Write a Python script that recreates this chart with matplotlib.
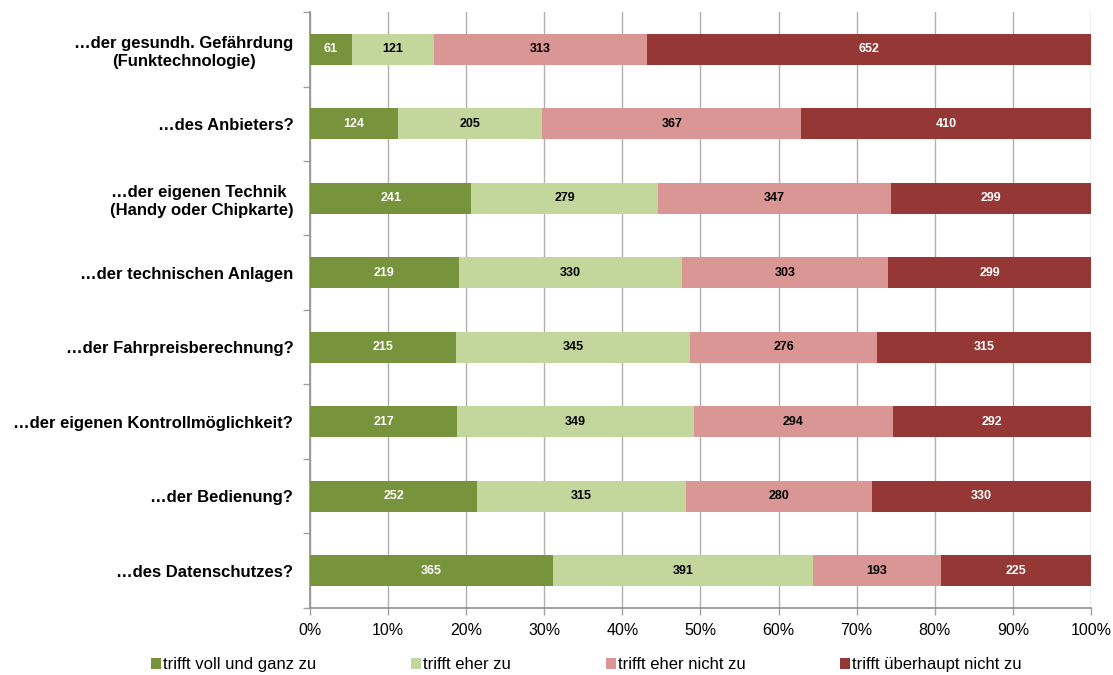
import matplotlib
matplotlib.use('Agg')
from matplotlib import pyplot as plt
import numpy as np

# Data (top to bottom as shown)
categories = ['…der gesundh. Gefährdung\n(Funktechnologie)',
              '…des Anbieters?',
              '…der eigenen Technik \n(Handy oder Chipkarte)',
              '…der technischen Anlagen',
              '…der Fahrpreisberechnung?',
              '…der eigenen Kontrollmöglichkeit?',
              '…der Bedienung?',
              '…des Datenschutzes?']
voll = [61, 124, 241, 219, 215, 217, 252, 365]
eher = [121, 205, 279, 330, 345, 349, 315, 391]
eher_nicht = [313, 367, 347, 303, 276, 294, 280, 193]
gar_nicht = [652, 410, 299, 299, 315, 292, 330, 225]
series_names = ['trifft voll und ganz zu', 'trifft eher zu',
                'trifft eher nicht zu', 'trifft überhaupt nicht zu']

colors = ['#77933C', '#C3D69B', '#D99694', '#953735']
text_colors = ['white', 'black', 'black', 'white']

plt.rcParams['font.family'] = ['Liberation Sans', 'DejaVu Sans']

fig = plt.figure(figsize=(11.13, 6.75), dpi=100)
ax = fig.add_axes([0.2785, 0.0993, 0.7017, 0.8829])

data = np.array([voll, eher, eher_nicht, gar_nicht], dtype=float)
totals = data.sum(axis=0)
shares = data / totals * 100

y = np.arange(len(categories))
left = np.zeros(len(categories))
for i in range(4):
    ax.barh(y, shares[i], left=left, height=0.41, color=colors[i],
            label=series_names[i], zorder=3)
    for j in range(len(categories)):
        ax.text(left[j] + shares[i][j] / 2, y[j], str(int(data[i][j])),
                ha='center', va='center', fontsize=9, fontweight='bold',
                color=text_colors[i], zorder=4)
    left += shares[i]

ax.set_xlim(0, 100)
ax.set_ylim(len(categories) - 0.5, -0.5)
ax.set_xticks(np.arange(0, 101, 10))
ax.set_xticklabels([f'{v}%' for v in range(0, 101, 10)], fontsize=11.5)
ax.set_yticks(y)
ax.set_yticklabels(categories, fontsize=12, fontweight='bold', ha='right',
                   multialignment='center', linespacing=1.3)
ax.tick_params(axis='y', length=0, pad=12)
ax.set_yticks(np.arange(-0.5, len(categories), 1), minor=True)
ax.tick_params(axis='y', which='minor', length=5, color='#a0a0a0', width=1)
ax.tick_params(axis='x', length=5, color='#a0a0a0', width=1, pad=6)

ax.grid(axis='x', color='#b0b0b0', linewidth=1, zorder=0)
ax.set_axisbelow(True)
for s in ['top', 'right']:
    ax.spines[s].set_visible(False)
ax.spines['left'].set_color('#909090')
ax.spines['bottom'].set_color('#909090')
ax.spines['left'].set_linewidth(1.2)
ax.spines['bottom'].set_linewidth(1.2)

handles, labels = ax.get_legend_handles_labels()
fig.legend(handles, labels, loc='center', bbox_to_anchor=(0.527, 0.015),
           ncol=4, frameon=False, prop={'size': 12},
           handlelength=0.6, handleheight=0.6, handletextpad=0.1,
           columnspacing=5.7)

plt.savefig('out.png', dpi=100)
